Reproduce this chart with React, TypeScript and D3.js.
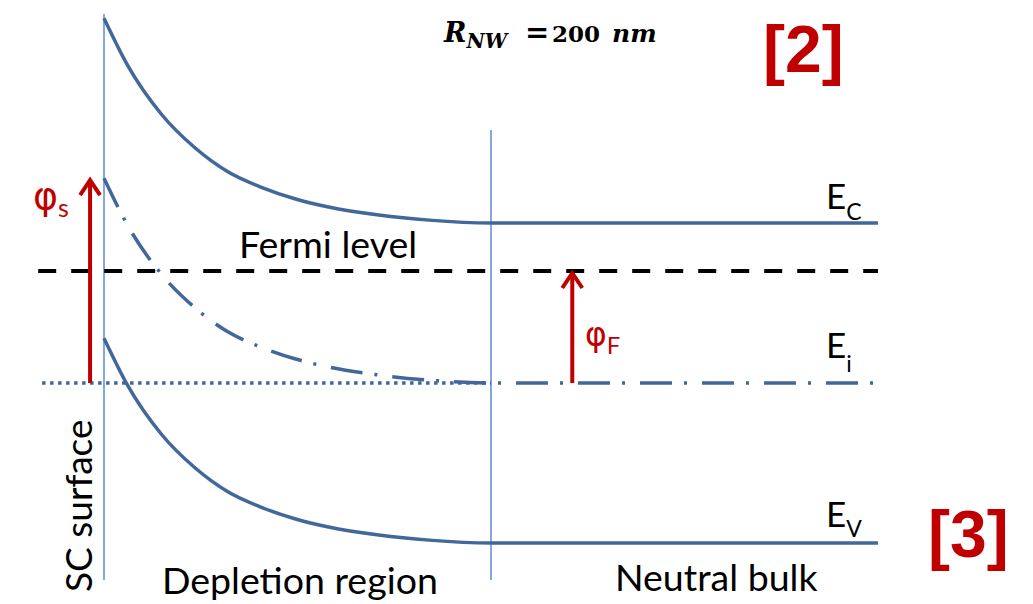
import React from "react";
import * as d3 from "d3";

// Distance from the semiconductor surface (nm) and band bending (in units of Ec - Ei)
const positionsNm = [0, 6, 15, 23.5, 32, 41, 49.5, 58, 71, 84, 100, 200];
const bending = [1.28, 0.99, 0.675, 0.47, 0.32, 0.22, 0.15, 0.1, 0.05, 0.018, 0, 0];

// Bulk band levels relative to the intrinsic level Ei
const bandNames = ["Ec", "Ei", "Ev"];
const bandLevels = [1.0, 0.0, -1.0];
const fermiLevel = 0.7;

// Horizontal extents (nm)
const fermiSpan = [-17, 200];
const intrinsicRefSpan = [-16, 100];
const surfaceNm = 0;
const depletionEdgeNm = 100;
const phiSArrowNm = -3.6;
const phiFArrowNm = 121;

const W = 1033;
const H = 604;

const bandColor = "#41679b";
const guideColor = "#5b8bd0";
const red = "#c00000";
const textFont = "Lato, 'Noto Sans', sans-serif";
const greekFont = "'DejaVu Sans', sans-serif";
const mathFont = "'DejaVu Serif', 'Liberation Serif', serif";

export default function App() {
  const x = d3.scaleLinear().domain([0, 200]).range([104, 878]);
  const y = d3.scaleLinear().domain([-1, 1]).range([543, 223]);

  const bandPath = (level: number) =>
    d3
      .line<number>()
      .x((_, i) => x(positionsNm[i]))
      .y((b) => y(level + b))
      .curve(d3.curveMonotoneX)(bending) as string;

  const bendSurface = bending[0];

  const arrow = (xNm: number, from: number, to: number) => {
    const xp = x(xNm);
    const y0 = y(from);
    const y1 = y(to);
    return (
      <g stroke={red} strokeWidth={4} fill="none">
        <line x1={xp} x2={xp} y1={y0} y2={y1 + 2} />
        <path d={`M${xp - 10},${y1 + 17} L${xp},${y1 + 2} L${xp + 10},${y1 + 17}`} strokeLinejoin="miter" />
      </g>
    );
  };

  return (
    <svg width={W} height={H} style={{ position: "absolute", left: 0, top: 0, background: "#fff" }}>
      {/* surface and depletion edge guides */}
      <line x1={x(surfaceNm)} x2={x(surfaceNm)} y1={14} y2={580} stroke={guideColor} strokeWidth={1.5} />
      <line x1={x(depletionEdgeNm)} x2={x(depletionEdgeNm)} y1={130} y2={580} stroke={guideColor} strokeWidth={1.5} />

      {/* intrinsic level reference (dotted) */}
      <line
        x1={x(intrinsicRefSpan[0])}
        x2={x(intrinsicRefSpan[1])}
        y1={y(0)}
        y2={y(0)}
        stroke={bandColor}
        strokeWidth={3.5}
        strokeDasharray="3.5,4.5"
      />

      {/* Fermi level */}
      <line
        x1={x(fermiSpan[0])}
        x2={x(fermiSpan[1])}
        y1={y(fermiLevel)}
        y2={y(fermiLevel)}
        stroke="#000"
        strokeWidth={4}
        strokeDasharray="18,15"
      />

      {/* bands */}
      {bandNames.map((name, i) => (
        <path
          key={name}
          d={bandPath(bandLevels[i])}
          fill="none"
          stroke={bandColor}
          strokeWidth={3.5}
          strokeDasharray={name === "Ei" ? "32,12,3,15" : undefined}
        />
      ))}

      {/* potential arrows */}
      {arrow(phiSArrowNm, 0, bendSurface)}
      {arrow(phiFArrowNm, 0, fermiLevel)}

      {/* labels */}
      <text x={33} y={209} fontFamily={greekFont} fontSize={38} fill={red}>
        φ<tspan fontFamily={textFont} fontSize={25} dy={8}>s</tspan>
      </text>
      <text x={585} y={346} fontFamily={greekFont} fontSize={33} fill={red}>
        φ<tspan fontFamily={textFont} fontSize={24} dy={8}>F</tspan>
      </text>

      <text x={239} y={258} fontFamily={textFont} fontSize={37.5} fill="#000">Fermi level</text>

      <text x={826} y={209} fontFamily={textFont} fontSize={35} fill="#000">
        E<tspan fontSize={23} dy={11}>C</tspan>
      </text>
      <text x={826} y={358} fontFamily={textFont} fontSize={35} fill="#000">
        E<tspan fontSize={23} dy={14}>i</tspan>
      </text>
      <text x={826} y={527} fontFamily={textFont} fontSize={35} fill="#000">
        E<tspan fontSize={23} dy={10}>V</tspan>
      </text>

      <text x={162} y={594} fontFamily={textFont} fontSize={37.5} fill="#000">Depletion region</text>
      <text x={615} y={591} fontFamily={textFont} fontSize={37.5} fill="#000">Neutral bulk</text>
      <text
        transform="translate(92,592) rotate(-90)"
        fontFamily={textFont}
        fontSize={37}
        fill="#000"
      >
        SC surface
      </text>

      <text y={42} fontFamily={mathFont} fontWeight="bold" fontSize={25} fill="#000">
        <tspan x={444} fontStyle="italic" fontSize={27}>R</tspan>
        <tspan fontStyle="italic" fontSize={20} dy={6}>NW</tspan>
        <tspan x={525} dy={-6} fontSize={29}>=</tspan>
        <tspan x={552} fontSize={23}>200</tspan>
        <tspan x={612} fontStyle="italic">nm</tspan>
      </text>

      <text x={763} y={72} fontFamily="'Liberation Sans', sans-serif" fontWeight="bold" fontSize={66} fill={red}>[2]</text>
      <text x={928} y={557} fontFamily="'Liberation Sans', sans-serif" fontWeight="bold" fontSize={66} fill={red}>[3]</text>
    </svg>
  );
}
